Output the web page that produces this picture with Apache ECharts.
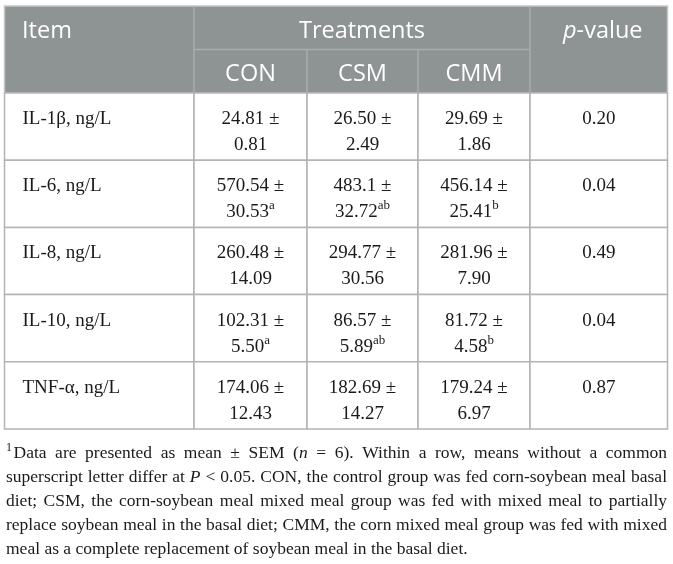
<!DOCTYPE html>
<html><head><meta charset="utf-8">
<script src="https://cdn.jsdelivr.net/npm/echarts@6/dist/echarts.min.js"></script>
<style>html,body{margin:0;padding:0;background:#fff}#c{width:673px;height:564px}</style>
</head><body><div id="c"></div>
<script>
// ---------- data ----------
const items = ['IL-1β, ng/L', 'IL-6, ng/L', 'IL-8, ng/L', 'IL-10, ng/L', 'TNF-α, ng/L'];
const treatments = ['CON', 'CSM', 'CMM'];
const conMean = ['24.81', '570.54', '260.48', '102.31', '174.06'];
const conSem  = ['0.81', '30.53', '14.09', '5.50', '12.43'];
const conSup  = ['', 'a', '', 'a', ''];
const csmMean = ['26.50', '483.1', '294.77', '86.57', '182.69'];
const csmSem  = ['2.49', '32.72', '30.56', '5.89', '14.27'];
const csmSup  = ['', 'ab', '', 'ab', ''];
const cmmMean = ['29.69', '456.14', '281.96', '81.72', '179.24'];
const cmmSem  = ['1.86', '25.41', '7.90', '4.58', '6.97'];
const cmmSup  = ['', 'b', '', 'b', ''];
const pValues = ['0.20', '0.04', '0.49', '0.04', '0.87'];
const headerItem = 'Item';
const headerGroup = 'Treatments';
const headerP = ['p', '-value'];
// footnote lines: _x_ = italic, ^x^ = superscript
const footnoteLines = [
  '^1^Data are presented as mean ± SEM (_n_ = 6). Within a row, means without a common',
  'superscript letter differ at _P_ < 0.05. CON, the control group was fed corn-soybean meal basal',
  'diet; CSM, the corn-soybean meal mixed meal group was fed with mixed meal to partially',
  'replace soybean meal in the basal diet; CMM, the corn mixed meal group was fed with mixed',
  'meal as a complete replacement of soybean meal in the basal diet.'
];

// ---------- layout ----------
const colEdges = [4.5, 194, 307, 418, 530, 667.5];
const HEAD_TOP = 6, HEAD_MID = 49.5, HEAD_BOT = 93, BODY_BOT = 429;
const HEAD_BG = '#8e9394', HEAD_LINE = '#a9adae', BODY_LINE = '#b3b3b3';
const SERIF = '"Liberation Serif", "Times New Roman", serif';
const SANS = '"Open Sans", "Noto Sans", sans-serif';
const BODY_FS = 19, BODY_LH = 26;
const FOOT_FS = 17.5, FOOT_TOP = 453, FOOT_LH = 24, FOOT_L = 6, FOOT_R = 667;

const means = [conMean, csmMean, cmmMean];
const sems = [conSem, csmSem, cmmSem];
const sups = [conSup, csmSup, cmmSup];

const cellData = [];
for (let r = 0; r < items.length; r++) {
  for (let c = 0; c < 5; c++) cellData.push([colEdges[c], r, c]);
}

function txt(x, y, text, opts) {
  const s = Object.assign({ text: text, fill: '#1a1a1a' }, opts || {});
  if (s.align) { s.textAlign = s.align; }
  if (s.verticalAlign) { s.textVerticalAlign = s.verticalAlign; }
  return { type: 'text', x: x, y: y, style: s, silent: true };
}

function renderItem(params, api) {
  const r = api.value(1), c = api.value(2);
  const p0 = api.coord([colEdges[c], r]);
  const p1 = api.coord([colEdges[c + 1], r]);
  const h = api.size([0, 1])[1];
  const top = p0[1] - h / 2;
  const children = [{
    type: 'rect',
    shape: { x: p0[0], y: top, width: p1[0] - p0[0], height: h },
    style: { fill: '#fff', stroke: BODY_LINE, lineWidth: 1.5 }
  }];
  const base = { fontSize: BODY_FS, fontFamily: SERIF, lineHeight: BODY_LH, verticalAlign: 'top',
    rich: { sup: { fontSize: 13, fontFamily: SERIF, verticalAlign: 'top', lineHeight: 15, fill: '#1a1a1a' } } };
  const cx = (p0[0] + p1[0]) / 2;
  if (c === 0) {
    children.push(txt(p0[0] + 18, top + 13, items[r], Object.assign({}, base, { align: 'left' })));
  } else if (c <= 3) {
    const k = c - 1;
    let t = means[k][r] + ' ±\n' + sems[k][r];
    if (sups[k][r]) t += '{sup|' + sups[k][r] + '}';
    children.push(txt(cx, top + 13, t, Object.assign({}, base, { align: 'center' })));
  } else {
    children.push(txt(cx, top + 13, pValues[r], Object.assign({}, base, { align: 'center' })));
  }
  return { type: 'group', children: children };
}

// ---------- header graphics ----------
const graphics = [];
graphics.push({ type: 'rect', shape: { x: colEdges[0], y: HEAD_TOP, width: colEdges[5] - colEdges[0], height: HEAD_BOT - HEAD_TOP },
  style: { fill: HEAD_BG, stroke: '#c4c7c8', lineWidth: 1.5 }, silent: true });
function line(x1, y1, x2, y2, color) {
  return { type: 'line', shape: { x1: x1, y1: y1, x2: x2, y2: y2 }, style: { stroke: color, lineWidth: 1.5 }, silent: true };
}
graphics.push(line(colEdges[1], HEAD_TOP, colEdges[1], HEAD_BOT, HEAD_LINE));
graphics.push(line(colEdges[4], HEAD_TOP, colEdges[4], HEAD_BOT, HEAD_LINE));
graphics.push(line(colEdges[1], HEAD_MID, colEdges[4], HEAD_MID, HEAD_LINE));
graphics.push(line(colEdges[2], HEAD_MID, colEdges[2], HEAD_BOT, HEAD_LINE));
graphics.push(line(colEdges[3], HEAD_MID, colEdges[3], HEAD_BOT, HEAD_LINE));
const hs = { fontSize: 23.5, fontFamily: SANS, fill: '#ffffff', verticalAlign: 'middle' };
const yTop = (HEAD_TOP + HEAD_MID) / 2 + 3.5, ySub = (HEAD_MID + HEAD_BOT) / 2 + 3;
graphics.push(txt(22, yTop, headerItem, Object.assign({}, hs, { align: 'left' })));
graphics.push(txt((colEdges[1] + colEdges[4]) / 2, yTop, headerGroup, Object.assign({}, hs, { align: 'center' })));
graphics.push(txt((colEdges[4] + colEdges[5]) / 2 + 4, yTop, '{i|' + headerP[0] + '}' + headerP[1],
  Object.assign({}, hs, { align: 'center', rich: { i: { fontSize: 23.5, fontFamily: SANS, fontStyle: 'italic', fill: '#ffffff' } } })));
treatments.forEach(function (t, i) {
  graphics.push(txt((colEdges[i + 1] + colEdges[i + 2]) / 2, ySub, t, Object.assign({}, hs, { align: 'center' })));
});

// ---------- footnote (justified) ----------
const ctx = document.createElement('canvas').getContext('2d');
function measure(t, italic, size) {
  ctx.font = (italic ? 'italic ' : '') + size + 'px ' + SERIF;
  return ctx.measureText(t).width;
}
function parseWord(w) {
  const segs = [];
  const re = /(_[^_]+_|\^[^\^]+\^|[^_\^]+)/g;
  let m;
  while ((m = re.exec(w))) {
    const s = m[0];
    if (s[0] === '_') segs.push({ t: s.slice(1, -1), it: true, sup: false });
    else if (s[0] === '^') segs.push({ t: s.slice(1, -1), it: false, sup: true });
    else segs.push({ t: s, it: false, sup: false });
  }
  return segs;
}
const SUP_FS = 12;
footnoteLines.forEach(function (ln, li) {
  const words = ln.split(' ').map(parseWord);
  const widths = words.map(function (segs) {
    return segs.reduce(function (a, s) { return a + measure(s.t, s.it, s.sup ? SUP_FS : FOOT_FS) + (s.sup ? 1.5 : 0); }, 0);
  });
  const total = widths.reduce(function (a, b) { return a + b; }, 0);
  const last = li === footnoteLines.length - 1;
  const spaceW = measure(' ', false, FOOT_FS);
  const gap = last ? spaceW : Math.max(2, (FOOT_R - FOOT_L - total) / (words.length - 1));
  const y = FOOT_TOP + li * FOOT_LH;
  let x = FOOT_L;
  words.forEach(function (segs, wi) {
    segs.forEach(function (s) {
      const size = s.sup ? SUP_FS : FOOT_FS;
      graphics.push(txt(x, s.sup ? y - 5 : y, s.t, {
        fontSize: size, fontFamily: SERIF, fontStyle: s.it ? 'italic' : 'normal',
        align: 'left', verticalAlign: 'middle'
      }));
      x += measure(s.t, s.it, size) + (s.sup ? 1.5 : 0);
    });
    x += gap;
  });
});

// ---------- chart ----------
const chart = echarts.init(document.getElementById('c'), null, { renderer: 'canvas' });
chart.setOption({
  animation: false,
  backgroundColor: '#ffffff',
  grid: { left: colEdges[0], top: HEAD_BOT, width: colEdges[5] - colEdges[0], height: BODY_BOT - HEAD_BOT, containLabel: false },
  xAxis: { type: 'value', min: colEdges[0], max: colEdges[5], show: false },
  yAxis: { type: 'category', data: items, inverse: true, show: false },
  series: [{
    type: 'custom',
    renderItem: renderItem,
    data: cellData,
    encode: { x: 0, y: 1 },
    clip: false,
    silent: true
  }],
  graphic: { elements: graphics }
});
</script>
</body></html>
